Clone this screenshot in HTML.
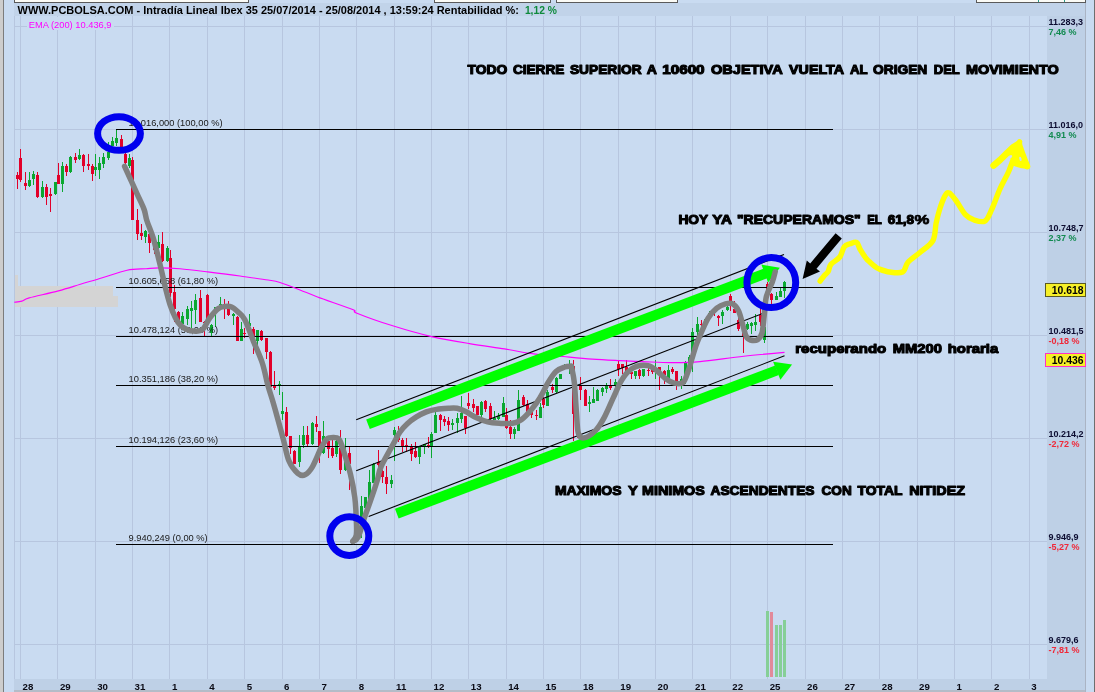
<!DOCTYPE html>
<html lang="es"><head><meta charset="utf-8"><title>PCBOLSA - Intradía Lineal Ibex 35</title>
<style>
html,body{margin:0;padding:0;background:#c9dbf1;overflow:hidden}
svg{display:block;position:absolute;left:0;top:0}
text{font-family:"Liberation Sans",sans-serif}
.s{font-size:9.3px;fill:#181818}
.ax{font-size:9px;font-weight:bold}
.d{font-size:9.7px;font-weight:bold;fill:#0a0a14}
.big{font-weight:bold;fill:#000;stroke:#000;stroke-width:1.15px;stroke-linejoin:round}
</style></head><body>
<svg width="1095" height="692" viewBox="0 0 1095 692">
<rect x="0" y="0" width="1095" height="692" fill="#c9dbf1"/>
<g shape-rendering="crispEdges">
<rect x="1047" y="3" width="38" height="689" fill="#bed0e6"/>
<rect x="14" y="679" width="1071" height="13" fill="#bed0e6"/>
<rect x="14" y="690" width="1072" height="2" fill="#b4bcc8"/>
<rect x="0" y="0" width="3" height="692" fill="#cdcdcd"/>
<rect x="3" y="0" width="1" height="692" fill="#7c7c7c"/>
<rect x="1085" y="3" width="1" height="689" fill="#aab4c4"/>
<rect x="1094" y="0" width="1" height="692" fill="#6e6e6e"/>
<rect x="14" y="0" width="234" height="2" fill="#fbfbf6"/>
<rect x="14" y="2" width="235" height="1" fill="#5a5a5a"/>
<rect x="14" y="0" width="1" height="3" fill="#5a5a5a"/>
<rect x="248" y="0" width="1" height="3" fill="#5a5a5a"/>
<rect x="434" y="0" width="116" height="2" fill="#fbfbf6"/>
<rect x="434" y="2" width="117" height="1" fill="#5a5a5a"/>
<rect x="434" y="0" width="1" height="3" fill="#5a5a5a"/>
<rect x="550" y="0" width="1" height="3" fill="#5a5a5a"/>
<rect x="556" y="0" width="121" height="2" fill="#fbfbf6"/>
<rect x="556" y="2" width="122" height="1" fill="#5a5a5a"/>
<rect x="556" y="0" width="1" height="3" fill="#5a5a5a"/>
<rect x="677" y="0" width="1" height="3" fill="#5a5a5a"/>
<rect x="976" y="0" width="109" height="2" fill="#fbfbf6"/>
<rect x="976" y="2" width="110" height="1" fill="#5a5a5a"/>
<rect x="976" y="0" width="1" height="3" fill="#5a5a5a"/>
<rect x="1085" y="0" width="1" height="3" fill="#5a5a5a"/>
<rect x="1038" y="0" width="1" height="2" fill="#2a9a8a"/>
<rect x="1064" y="0" width="1" height="2" fill="#2a9a8a"/>
<rect x="14" y="3" width="1" height="676" fill="#b7c6df"/>
<rect x="20" y="3" width="1" height="676" fill="#b7c6df"/>
<rect x="57" y="3" width="1" height="676" fill="#b7c6df"/>
<rect x="95" y="3" width="1" height="676" fill="#b7c6df"/>
<rect x="132" y="3" width="1" height="676" fill="#b7c6df"/>
<rect x="169" y="3" width="1" height="676" fill="#b7c6df"/>
<rect x="207" y="3" width="1" height="676" fill="#b7c6df"/>
<rect x="244" y="3" width="1" height="676" fill="#b7c6df"/>
<rect x="282" y="3" width="1" height="676" fill="#b7c6df"/>
<rect x="319" y="3" width="1" height="676" fill="#b7c6df"/>
<rect x="356" y="3" width="1" height="676" fill="#b7c6df"/>
<rect x="394" y="3" width="1" height="676" fill="#b7c6df"/>
<rect x="431" y="3" width="1" height="676" fill="#b7c6df"/>
<rect x="468" y="3" width="1" height="676" fill="#b7c6df"/>
<rect x="506" y="3" width="1" height="676" fill="#b7c6df"/>
<rect x="543" y="3" width="1" height="676" fill="#b7c6df"/>
<rect x="580" y="3" width="1" height="676" fill="#b7c6df"/>
<rect x="618" y="3" width="1" height="676" fill="#b7c6df"/>
<rect x="655" y="3" width="1" height="676" fill="#b7c6df"/>
<rect x="692" y="3" width="1" height="676" fill="#b7c6df"/>
<rect x="730" y="3" width="1" height="676" fill="#b7c6df"/>
<rect x="767" y="3" width="1" height="676" fill="#b7c6df"/>
<rect x="805" y="3" width="1" height="676" fill="#b7c6df"/>
<rect x="842" y="3" width="1" height="676" fill="#b7c6df"/>
<rect x="879" y="3" width="1" height="676" fill="#b7c6df"/>
<rect x="917" y="3" width="1" height="676" fill="#b7c6df"/>
<rect x="954" y="3" width="1" height="676" fill="#b7c6df"/>
<rect x="991" y="3" width="1" height="676" fill="#b7c6df"/>
<rect x="1029" y="3" width="1" height="676" fill="#b7c6df"/>
<rect x="14" y="26" width="1033" height="1" fill="#b7c6df"/>
<rect x="14" y="129" width="1033" height="1" fill="#b7c6df"/>
<rect x="14" y="232" width="1033" height="1" fill="#b7c6df"/>
<rect x="14" y="335" width="1033" height="1" fill="#b7c6df"/>
<rect x="14" y="438" width="1033" height="1" fill="#b7c6df"/>
<rect x="14" y="541" width="1033" height="1" fill="#b7c6df"/>
<rect x="14" y="644" width="1033" height="1" fill="#b7c6df"/>
<rect x="14" y="3" width="1071" height="13" fill="#c1d3e9"/>
<rect x="27" y="17" width="87" height="13" fill="#c9dbf1"/>
<path d="M14.5 275H18.3V286H112.5V296H117.6V307.3H14.5Z" fill="#d4d4d4"/>
<rect x="766" y="611" width="3" height="66" fill="#86cf97"/>
<rect x="770" y="612" width="3" height="65" fill="#e28a9a"/>
<rect x="775" y="625" width="3" height="52" fill="#86cf97"/>
<rect x="779" y="625" width="3" height="52" fill="#86cf97"/>
<rect x="783" y="620" width="3" height="57" fill="#86cf97"/>
<rect x="17" y="172" width="1" height="17" fill="#e2002a"/>
<rect x="16" y="175" width="3" height="4" fill="#e2002a"/>
<rect x="20" y="149" width="1" height="33" fill="#e2002a"/>
<rect x="19" y="158" width="3" height="22" fill="#e2002a"/>
<rect x="25" y="172" width="1" height="18" fill="#e2002a"/>
<rect x="24" y="183" width="3" height="3" fill="#e2002a"/>
<rect x="29" y="172" width="1" height="15" fill="#0aa830"/>
<rect x="28" y="180" width="3" height="6" fill="#0aa830"/>
<rect x="33" y="171" width="1" height="14" fill="#0aa830"/>
<rect x="32" y="174" width="3" height="5" fill="#0aa830"/>
<rect x="37" y="172" width="1" height="26" fill="#e2002a"/>
<rect x="36" y="175" width="3" height="22" fill="#e2002a"/>
<rect x="42" y="181" width="1" height="17" fill="#0aa830"/>
<rect x="41" y="187" width="3" height="10" fill="#0aa830"/>
<rect x="46" y="184" width="1" height="21" fill="#e2002a"/>
<rect x="45" y="187" width="3" height="10" fill="#e2002a"/>
<rect x="50" y="188" width="1" height="24" fill="#e2002a"/>
<rect x="49" y="194" width="3" height="2" fill="#e2002a"/>
<rect x="55" y="182" width="1" height="13" fill="#0aa830"/>
<rect x="54" y="182" width="3" height="12" fill="#0aa830"/>
<rect x="58" y="163" width="1" height="21" fill="#e2002a"/>
<rect x="57" y="175" width="3" height="9" fill="#e2002a"/>
<rect x="62" y="162" width="1" height="30" fill="#0aa830"/>
<rect x="61" y="166" width="3" height="18" fill="#0aa830"/>
<rect x="66" y="164" width="1" height="12" fill="#e2002a"/>
<rect x="65" y="166" width="3" height="6" fill="#e2002a"/>
<rect x="70" y="156" width="1" height="17" fill="#0aa830"/>
<rect x="69" y="157" width="3" height="15" fill="#0aa830"/>
<rect x="75" y="153" width="1" height="10" fill="#e2002a"/>
<rect x="74" y="157" width="3" height="3" fill="#e2002a"/>
<rect x="79" y="149" width="1" height="11" fill="#0aa830"/>
<rect x="78" y="155" width="3" height="4" fill="#0aa830"/>
<rect x="83" y="154" width="1" height="18" fill="#e2002a"/>
<rect x="82" y="155" width="3" height="11" fill="#e2002a"/>
<rect x="88" y="154" width="1" height="16" fill="#e2002a"/>
<rect x="87" y="164" width="3" height="2" fill="#e2002a"/>
<rect x="92" y="164" width="1" height="17" fill="#e2002a"/>
<rect x="91" y="166" width="3" height="8" fill="#e2002a"/>
<rect x="95" y="154" width="1" height="22" fill="#0aa830"/>
<rect x="94" y="167" width="3" height="3" fill="#0aa830"/>
<rect x="99" y="157" width="1" height="22" fill="#0aa830"/>
<rect x="98" y="163" width="3" height="7" fill="#0aa830"/>
<rect x="103" y="153" width="1" height="15" fill="#0aa830"/>
<rect x="102" y="157" width="3" height="7" fill="#0aa830"/>
<rect x="108" y="142" width="1" height="18" fill="#0aa830"/>
<rect x="107" y="152" width="3" height="6" fill="#0aa830"/>
<rect x="112" y="137" width="1" height="9" fill="#0aa830"/>
<rect x="111" y="141" width="3" height="5" fill="#0aa830"/>
<rect x="116" y="130" width="1" height="16" fill="#0aa830"/>
<rect x="115" y="138" width="3" height="5" fill="#0aa830"/>
<rect x="121" y="135" width="1" height="17" fill="#e2002a"/>
<rect x="120" y="139" width="3" height="13" fill="#e2002a"/>
<rect x="125" y="150" width="1" height="15" fill="#e2002a"/>
<rect x="124" y="154" width="3" height="9" fill="#e2002a"/>
<rect x="129" y="154" width="1" height="14" fill="#0aa830"/>
<rect x="128" y="158" width="3" height="8" fill="#0aa830"/>
<rect x="132" y="157" width="1" height="63" fill="#e2002a"/>
<rect x="131" y="160" width="3" height="60" fill="#e2002a"/>
<rect x="137" y="209" width="1" height="31" fill="#e2002a"/>
<rect x="136" y="220" width="3" height="14" fill="#e2002a"/>
<rect x="141" y="224" width="1" height="16" fill="#e2002a"/>
<rect x="140" y="233" width="3" height="3" fill="#e2002a"/>
<rect x="145" y="230" width="1" height="13" fill="#0aa830"/>
<rect x="144" y="231" width="3" height="6" fill="#0aa830"/>
<rect x="149" y="232" width="1" height="21" fill="#e2002a"/>
<rect x="148" y="234" width="3" height="9" fill="#e2002a"/>
<rect x="154" y="243" width="1" height="11" fill="#e2002a"/>
<rect x="153" y="244" width="3" height="6" fill="#e2002a"/>
<rect x="158" y="235" width="1" height="14" fill="#0aa830"/>
<rect x="157" y="242" width="3" height="6" fill="#0aa830"/>
<rect x="162" y="232" width="1" height="30" fill="#e2002a"/>
<rect x="161" y="244" width="3" height="17" fill="#e2002a"/>
<rect x="167" y="246" width="1" height="16" fill="#0aa830"/>
<rect x="166" y="248" width="3" height="13" fill="#0aa830"/>
<rect x="170" y="250" width="1" height="47" fill="#e2002a"/>
<rect x="169" y="258" width="3" height="35" fill="#e2002a"/>
<rect x="174" y="285" width="1" height="37" fill="#e2002a"/>
<rect x="173" y="292" width="3" height="17" fill="#e2002a"/>
<rect x="178" y="311" width="1" height="13" fill="#e2002a"/>
<rect x="177" y="312" width="3" height="10" fill="#e2002a"/>
<rect x="182" y="312" width="1" height="13" fill="#0aa830"/>
<rect x="181" y="316" width="3" height="8" fill="#0aa830"/>
<rect x="187" y="306" width="1" height="19" fill="#0aa830"/>
<rect x="186" y="309" width="3" height="10" fill="#0aa830"/>
<rect x="191" y="301" width="1" height="27" fill="#0aa830"/>
<rect x="190" y="308" width="3" height="3" fill="#0aa830"/>
<rect x="195" y="294" width="1" height="30" fill="#0aa830"/>
<rect x="194" y="300" width="3" height="10" fill="#0aa830"/>
<rect x="200" y="290" width="1" height="32" fill="#e2002a"/>
<rect x="199" y="298" width="3" height="24" fill="#e2002a"/>
<rect x="204" y="321" width="1" height="15" fill="#e2002a"/>
<rect x="203" y="322" width="3" height="1" fill="#e2002a"/>
<rect x="207" y="294" width="1" height="28" fill="#e2002a"/>
<rect x="206" y="295" width="3" height="25" fill="#e2002a"/>
<rect x="211" y="324" width="1" height="12" fill="#0aa830"/>
<rect x="210" y="325" width="3" height="8" fill="#0aa830"/>
<rect x="215" y="307" width="1" height="20" fill="#0aa830"/>
<rect x="214" y="307" width="3" height="2" fill="#0aa830"/>
<rect x="220" y="297" width="1" height="11" fill="#0aa830"/>
<rect x="219" y="304" width="3" height="2" fill="#0aa830"/>
<rect x="224" y="299" width="1" height="20" fill="#e2002a"/>
<rect x="223" y="306" width="3" height="3" fill="#e2002a"/>
<rect x="228" y="301" width="1" height="15" fill="#e2002a"/>
<rect x="227" y="309" width="3" height="6" fill="#e2002a"/>
<rect x="233" y="313" width="1" height="12" fill="#0aa830"/>
<rect x="232" y="314" width="3" height="2" fill="#0aa830"/>
<rect x="237" y="316" width="1" height="25" fill="#e2002a"/>
<rect x="236" y="317" width="3" height="24" fill="#e2002a"/>
<rect x="241" y="322" width="1" height="19" fill="#0aa830"/>
<rect x="240" y="329" width="3" height="12" fill="#0aa830"/>
<rect x="244" y="328" width="1" height="10" fill="#e2002a"/>
<rect x="243" y="333" width="3" height="1" fill="#e2002a"/>
<rect x="249" y="314" width="1" height="13" fill="#0aa830"/>
<rect x="248" y="323" width="3" height="3" fill="#0aa830"/>
<rect x="253" y="327" width="1" height="27" fill="#e2002a"/>
<rect x="252" y="329" width="3" height="7" fill="#e2002a"/>
<rect x="257" y="330" width="1" height="17" fill="#0aa830"/>
<rect x="256" y="330" width="3" height="11" fill="#0aa830"/>
<rect x="261" y="330" width="1" height="11" fill="#e2002a"/>
<rect x="260" y="331" width="3" height="9" fill="#e2002a"/>
<rect x="266" y="338" width="1" height="21" fill="#e2002a"/>
<rect x="265" y="338" width="3" height="14" fill="#e2002a"/>
<rect x="270" y="351" width="1" height="38" fill="#e2002a"/>
<rect x="269" y="352" width="3" height="35" fill="#e2002a"/>
<rect x="274" y="371" width="1" height="19" fill="#e2002a"/>
<rect x="273" y="385" width="3" height="3" fill="#e2002a"/>
<rect x="279" y="381" width="1" height="14" fill="#0aa830"/>
<rect x="278" y="384" width="3" height="2" fill="#0aa830"/>
<rect x="282" y="392" width="1" height="28" fill="#0aa830"/>
<rect x="281" y="411" width="3" height="3" fill="#0aa830"/>
<rect x="286" y="407" width="1" height="30" fill="#e2002a"/>
<rect x="285" y="412" width="3" height="24" fill="#e2002a"/>
<rect x="290" y="436" width="1" height="18" fill="#e2002a"/>
<rect x="289" y="436" width="3" height="12" fill="#e2002a"/>
<rect x="294" y="450" width="1" height="14" fill="#e2002a"/>
<rect x="293" y="451" width="3" height="13" fill="#e2002a"/>
<rect x="299" y="435" width="1" height="32" fill="#0aa830"/>
<rect x="298" y="446" width="3" height="16" fill="#0aa830"/>
<rect x="303" y="426" width="1" height="22" fill="#0aa830"/>
<rect x="302" y="435" width="3" height="10" fill="#0aa830"/>
<rect x="307" y="426" width="1" height="20" fill="#e2002a"/>
<rect x="306" y="435" width="3" height="9" fill="#e2002a"/>
<rect x="312" y="422" width="1" height="23" fill="#0aa830"/>
<rect x="311" y="423" width="3" height="21" fill="#0aa830"/>
<rect x="316" y="416" width="1" height="16" fill="#e2002a"/>
<rect x="315" y="424" width="3" height="3" fill="#e2002a"/>
<rect x="319" y="431" width="1" height="32" fill="#e2002a"/>
<rect x="318" y="431" width="3" height="15" fill="#e2002a"/>
<rect x="323" y="421" width="1" height="33" fill="#0aa830"/>
<rect x="322" y="436" width="3" height="17" fill="#0aa830"/>
<rect x="328" y="440" width="1" height="18" fill="#e2002a"/>
<rect x="327" y="441" width="3" height="8" fill="#e2002a"/>
<rect x="332" y="440" width="1" height="18" fill="#e2002a"/>
<rect x="331" y="448" width="3" height="8" fill="#e2002a"/>
<rect x="336" y="440" width="1" height="17" fill="#0aa830"/>
<rect x="335" y="441" width="3" height="13" fill="#0aa830"/>
<rect x="340" y="430" width="1" height="44" fill="#e2002a"/>
<rect x="339" y="448" width="3" height="22" fill="#e2002a"/>
<rect x="345" y="438" width="1" height="33" fill="#0aa830"/>
<rect x="344" y="460" width="3" height="10" fill="#0aa830"/>
<rect x="349" y="446" width="1" height="44" fill="#e2002a"/>
<rect x="348" y="453" width="3" height="11" fill="#e2002a"/>
<rect x="361" y="496" width="1" height="42" fill="#0aa830"/>
<rect x="360" y="506" width="3" height="14" fill="#0aa830"/>
<rect x="365" y="497" width="1" height="11" fill="#0aa830"/>
<rect x="364" y="497" width="3" height="11" fill="#0aa830"/>
<rect x="369" y="470" width="1" height="30" fill="#0aa830"/>
<rect x="368" y="482" width="3" height="17" fill="#0aa830"/>
<rect x="373" y="463" width="1" height="20" fill="#0aa830"/>
<rect x="372" y="464" width="3" height="19" fill="#0aa830"/>
<rect x="378" y="450" width="1" height="17" fill="#e2002a"/>
<rect x="377" y="462" width="3" height="3" fill="#e2002a"/>
<rect x="382" y="470" width="1" height="13" fill="#e2002a"/>
<rect x="381" y="471" width="3" height="6" fill="#e2002a"/>
<rect x="386" y="466" width="1" height="28" fill="#e2002a"/>
<rect x="385" y="477" width="3" height="7" fill="#e2002a"/>
<rect x="391" y="475" width="1" height="13" fill="#0aa830"/>
<rect x="390" y="480" width="3" height="4" fill="#0aa830"/>
<rect x="394" y="427" width="1" height="34" fill="#0aa830"/>
<rect x="393" y="430" width="3" height="5" fill="#0aa830"/>
<rect x="398" y="426" width="1" height="16" fill="#e2002a"/>
<rect x="397" y="431" width="3" height="9" fill="#e2002a"/>
<rect x="402" y="438" width="1" height="14" fill="#e2002a"/>
<rect x="401" y="440" width="3" height="6" fill="#e2002a"/>
<rect x="406" y="438" width="1" height="14" fill="#e2002a"/>
<rect x="405" y="445" width="3" height="1" fill="#e2002a"/>
<rect x="411" y="444" width="1" height="17" fill="#e2002a"/>
<rect x="410" y="447" width="3" height="7" fill="#e2002a"/>
<rect x="415" y="442" width="1" height="16" fill="#e2002a"/>
<rect x="414" y="451" width="3" height="6" fill="#e2002a"/>
<rect x="419" y="446" width="1" height="18" fill="#0aa830"/>
<rect x="418" y="446" width="3" height="11" fill="#0aa830"/>
<rect x="424" y="444" width="1" height="10" fill="#0aa830"/>
<rect x="423" y="444" width="3" height="3" fill="#0aa830"/>
<rect x="428" y="437" width="1" height="11" fill="#e2002a"/>
<rect x="427" y="445" width="3" height="1" fill="#e2002a"/>
<rect x="431" y="432" width="1" height="26" fill="#0aa830"/>
<rect x="430" y="434" width="3" height="12" fill="#0aa830"/>
<rect x="435" y="409" width="1" height="24" fill="#0aa830"/>
<rect x="434" y="415" width="3" height="18" fill="#0aa830"/>
<rect x="440" y="414" width="1" height="17" fill="#e2002a"/>
<rect x="439" y="415" width="3" height="5" fill="#e2002a"/>
<rect x="444" y="416" width="1" height="10" fill="#e2002a"/>
<rect x="443" y="419" width="3" height="3" fill="#e2002a"/>
<rect x="448" y="417" width="1" height="14" fill="#e2002a"/>
<rect x="447" y="421" width="3" height="4" fill="#e2002a"/>
<rect x="452" y="419" width="1" height="11" fill="#0aa830"/>
<rect x="451" y="423" width="3" height="2" fill="#0aa830"/>
<rect x="457" y="413" width="1" height="20" fill="#0aa830"/>
<rect x="456" y="418" width="3" height="5" fill="#0aa830"/>
<rect x="461" y="396" width="1" height="27" fill="#0aa830"/>
<rect x="460" y="413" width="3" height="6" fill="#0aa830"/>
<rect x="465" y="416" width="1" height="18" fill="#e2002a"/>
<rect x="464" y="416" width="3" height="12" fill="#e2002a"/>
<rect x="468" y="393" width="1" height="16" fill="#e2002a"/>
<rect x="467" y="403" width="3" height="3" fill="#e2002a"/>
<rect x="473" y="399" width="1" height="13" fill="#e2002a"/>
<rect x="472" y="404" width="3" height="4" fill="#e2002a"/>
<rect x="477" y="406" width="1" height="9" fill="#e2002a"/>
<rect x="476" y="406" width="3" height="9" fill="#e2002a"/>
<rect x="481" y="401" width="1" height="16" fill="#0aa830"/>
<rect x="480" y="402" width="3" height="13" fill="#0aa830"/>
<rect x="485" y="400" width="1" height="12" fill="#e2002a"/>
<rect x="484" y="401" width="3" height="8" fill="#e2002a"/>
<rect x="490" y="403" width="1" height="17" fill="#e2002a"/>
<rect x="489" y="406" width="3" height="13" fill="#e2002a"/>
<rect x="494" y="411" width="1" height="9" fill="#0aa830"/>
<rect x="493" y="418" width="3" height="2" fill="#0aa830"/>
<rect x="498" y="413" width="1" height="7" fill="#0aa830"/>
<rect x="497" y="416" width="3" height="3" fill="#0aa830"/>
<rect x="503" y="397" width="1" height="20" fill="#0aa830"/>
<rect x="502" y="403" width="3" height="14" fill="#0aa830"/>
<rect x="506" y="408" width="1" height="21" fill="#e2002a"/>
<rect x="505" y="415" width="3" height="13" fill="#e2002a"/>
<rect x="510" y="420" width="1" height="19" fill="#e2002a"/>
<rect x="509" y="427" width="3" height="7" fill="#e2002a"/>
<rect x="514" y="427" width="1" height="12" fill="#0aa830"/>
<rect x="513" y="429" width="3" height="5" fill="#0aa830"/>
<rect x="518" y="390" width="1" height="41" fill="#0aa830"/>
<rect x="517" y="400" width="3" height="31" fill="#0aa830"/>
<rect x="523" y="395" width="1" height="11" fill="#e2002a"/>
<rect x="522" y="397" width="3" height="8" fill="#e2002a"/>
<rect x="527" y="400" width="1" height="12" fill="#e2002a"/>
<rect x="526" y="404" width="3" height="8" fill="#e2002a"/>
<rect x="531" y="409" width="1" height="9" fill="#e2002a"/>
<rect x="530" y="412" width="3" height="3" fill="#e2002a"/>
<rect x="536" y="410" width="1" height="10" fill="#e2002a"/>
<rect x="535" y="415" width="3" height="1" fill="#e2002a"/>
<rect x="540" y="403" width="1" height="15" fill="#0aa830"/>
<rect x="539" y="407" width="3" height="11" fill="#0aa830"/>
<rect x="543" y="397" width="1" height="11" fill="#e2002a"/>
<rect x="542" y="399" width="3" height="6" fill="#e2002a"/>
<rect x="547" y="390" width="1" height="16" fill="#0aa830"/>
<rect x="546" y="392" width="3" height="14" fill="#0aa830"/>
<rect x="552" y="384" width="1" height="9" fill="#e2002a"/>
<rect x="551" y="387" width="3" height="3" fill="#e2002a"/>
<rect x="556" y="377" width="1" height="16" fill="#0aa830"/>
<rect x="555" y="378" width="3" height="14" fill="#0aa830"/>
<rect x="560" y="374" width="1" height="5" fill="#0aa830"/>
<rect x="559" y="374" width="3" height="5" fill="#0aa830"/>
<rect x="564" y="364" width="1" height="6" fill="#0aa830"/>
<rect x="563" y="365" width="3" height="4" fill="#0aa830"/>
<rect x="569" y="360" width="1" height="14" fill="#0aa830"/>
<rect x="568" y="364" width="3" height="4" fill="#0aa830"/>
<rect x="573" y="360" width="1" height="81" fill="#e2002a"/>
<rect x="572" y="366" width="3" height="48" fill="#e2002a"/>
<rect x="577" y="412" width="1" height="26" fill="#e2002a"/>
<rect x="576" y="414" width="3" height="16" fill="#e2002a"/>
<rect x="580" y="377" width="1" height="23" fill="#e2002a"/>
<rect x="579" y="386" width="3" height="4" fill="#e2002a"/>
<rect x="585" y="389" width="1" height="17" fill="#e2002a"/>
<rect x="584" y="390" width="3" height="16" fill="#e2002a"/>
<rect x="589" y="396" width="1" height="16" fill="#0aa830"/>
<rect x="588" y="402" width="3" height="2" fill="#0aa830"/>
<rect x="593" y="387" width="1" height="16" fill="#0aa830"/>
<rect x="592" y="399" width="3" height="4" fill="#0aa830"/>
<rect x="597" y="389" width="1" height="12" fill="#0aa830"/>
<rect x="596" y="390" width="3" height="11" fill="#0aa830"/>
<rect x="602" y="387" width="1" height="9" fill="#0aa830"/>
<rect x="601" y="388" width="3" height="4" fill="#0aa830"/>
<rect x="606" y="383" width="1" height="10" fill="#0aa830"/>
<rect x="605" y="386" width="3" height="3" fill="#0aa830"/>
<rect x="610" y="379" width="1" height="11" fill="#e2002a"/>
<rect x="609" y="386" width="3" height="2" fill="#e2002a"/>
<rect x="615" y="379" width="1" height="9" fill="#0aa830"/>
<rect x="614" y="382" width="3" height="4" fill="#0aa830"/>
<rect x="618" y="360" width="1" height="16" fill="#e2002a"/>
<rect x="617" y="364" width="3" height="5" fill="#e2002a"/>
<rect x="622" y="364" width="1" height="10" fill="#e2002a"/>
<rect x="621" y="364" width="3" height="4" fill="#e2002a"/>
<rect x="626" y="360" width="1" height="11" fill="#e2002a"/>
<rect x="625" y="367" width="3" height="4" fill="#e2002a"/>
<rect x="631" y="367" width="1" height="12" fill="#e2002a"/>
<rect x="630" y="372" width="3" height="2" fill="#e2002a"/>
<rect x="635" y="371" width="1" height="8" fill="#0aa830"/>
<rect x="634" y="371" width="3" height="5" fill="#0aa830"/>
<rect x="639" y="369" width="1" height="10" fill="#e2002a"/>
<rect x="638" y="370" width="3" height="6" fill="#e2002a"/>
<rect x="643" y="369" width="1" height="8" fill="#0aa830"/>
<rect x="642" y="369" width="3" height="7" fill="#0aa830"/>
<rect x="648" y="368" width="1" height="8" fill="#e2002a"/>
<rect x="647" y="370" width="3" height="1" fill="#e2002a"/>
<rect x="652" y="367" width="1" height="7" fill="#e2002a"/>
<rect x="651" y="370" width="3" height="2" fill="#e2002a"/>
<rect x="655" y="360" width="1" height="19" fill="#0aa830"/>
<rect x="654" y="368" width="3" height="4" fill="#0aa830"/>
<rect x="659" y="367" width="1" height="23" fill="#e2002a"/>
<rect x="658" y="367" width="3" height="4" fill="#e2002a"/>
<rect x="664" y="370" width="1" height="14" fill="#e2002a"/>
<rect x="663" y="371" width="3" height="4" fill="#e2002a"/>
<rect x="668" y="365" width="1" height="14" fill="#0aa830"/>
<rect x="667" y="370" width="3" height="9" fill="#0aa830"/>
<rect x="672" y="367" width="1" height="7" fill="#e2002a"/>
<rect x="671" y="369" width="3" height="3" fill="#e2002a"/>
<rect x="676" y="371" width="1" height="19" fill="#e2002a"/>
<rect x="675" y="371" width="3" height="10" fill="#e2002a"/>
<rect x="681" y="376" width="1" height="13" fill="#0aa830"/>
<rect x="680" y="379" width="3" height="6" fill="#0aa830"/>
<rect x="685" y="361" width="1" height="23" fill="#0aa830"/>
<rect x="684" y="362" width="3" height="18" fill="#0aa830"/>
<rect x="689" y="355" width="1" height="13" fill="#0aa830"/>
<rect x="688" y="357" width="3" height="8" fill="#0aa830"/>
<rect x="692" y="328" width="1" height="44" fill="#0aa830"/>
<rect x="691" y="332" width="3" height="25" fill="#0aa830"/>
<rect x="697" y="317" width="1" height="19" fill="#0aa830"/>
<rect x="696" y="324" width="3" height="8" fill="#0aa830"/>
<rect x="701" y="320" width="1" height="9" fill="#e2002a"/>
<rect x="700" y="324" width="3" height="1" fill="#e2002a"/>
<rect x="705" y="318" width="1" height="6" fill="#0aa830"/>
<rect x="704" y="319" width="3" height="5" fill="#0aa830"/>
<rect x="709" y="311" width="1" height="7" fill="#0aa830"/>
<rect x="708" y="313" width="3" height="5" fill="#0aa830"/>
<rect x="714" y="308" width="1" height="8" fill="#e2002a"/>
<rect x="713" y="309" width="3" height="4" fill="#e2002a"/>
<rect x="718" y="315" width="1" height="11" fill="#e2002a"/>
<rect x="717" y="316" width="3" height="2" fill="#e2002a"/>
<rect x="722" y="310" width="1" height="14" fill="#0aa830"/>
<rect x="721" y="312" width="3" height="4" fill="#0aa830"/>
<rect x="727" y="305" width="1" height="6" fill="#0aa830"/>
<rect x="726" y="307" width="3" height="3" fill="#0aa830"/>
<rect x="730" y="294" width="1" height="17" fill="#e2002a"/>
<rect x="729" y="296" width="3" height="5" fill="#e2002a"/>
<rect x="734" y="301" width="1" height="12" fill="#e2002a"/>
<rect x="733" y="309" width="3" height="4" fill="#e2002a"/>
<rect x="738" y="315" width="1" height="16" fill="#e2002a"/>
<rect x="737" y="320" width="3" height="9" fill="#e2002a"/>
<rect x="743" y="325" width="1" height="28" fill="#e2002a"/>
<rect x="742" y="328" width="3" height="8" fill="#e2002a"/>
<rect x="747" y="322" width="1" height="8" fill="#0aa830"/>
<rect x="746" y="324" width="3" height="5" fill="#0aa830"/>
<rect x="751" y="322" width="1" height="12" fill="#0aa830"/>
<rect x="750" y="323" width="3" height="3" fill="#0aa830"/>
<rect x="755" y="314" width="1" height="17" fill="#0aa830"/>
<rect x="754" y="322" width="3" height="3" fill="#0aa830"/>
<rect x="760" y="308" width="1" height="18" fill="#e2002a"/>
<rect x="759" y="315" width="3" height="7" fill="#e2002a"/>
<rect x="764" y="326" width="1" height="17" fill="#0aa830"/>
<rect x="763" y="327" width="3" height="13" fill="#0aa830"/>
<rect x="767" y="282" width="1" height="14" fill="#e2002a"/>
<rect x="766" y="284" width="3" height="8" fill="#e2002a"/>
<rect x="771" y="293" width="1" height="11" fill="#e2002a"/>
<rect x="770" y="294" width="3" height="6" fill="#e2002a"/>
<rect x="776" y="292" width="1" height="8" fill="#0aa830"/>
<rect x="775" y="296" width="3" height="4" fill="#0aa830"/>
<rect x="780" y="288" width="1" height="9" fill="#0aa830"/>
<rect x="779" y="291" width="3" height="6" fill="#0aa830"/>
<rect x="784" y="281" width="1" height="17" fill="#0aa830"/>
<rect x="783" y="282" width="3" height="9" fill="#0aa830"/>
<rect x="116" y="129" width="717" height="1" fill="#000"/>
<rect x="116" y="287" width="717" height="1" fill="#000"/>
<rect x="116" y="336" width="717" height="1" fill="#000"/>
<rect x="116" y="385" width="717" height="1" fill="#000"/>
<rect x="116" y="446" width="717" height="1" fill="#000"/>
<rect x="116" y="544" width="717" height="1" fill="#000"/>
</g>
<text class="s" x="128.6" y="125.8">11.016,000 (100,00 %)</text>
<text class="s" x="128.6" y="283.8">10.605,658 (61,80 %)</text>
<text class="s" x="128.6" y="332.8">10.478,124 (50,00 %)</text>
<text class="s" x="128.6" y="381.8">10.351,186 (38,20 %)</text>
<text class="s" x="128.6" y="442.8">10.194,126 (23,60 %)</text>
<text class="s" x="128.6" y="540.8">9.940,249 (0,00 %)</text>
<path d="M14.2 302.3C15.5 302.1 19.4 301.8 21.9 301.1C24.4 300.4 23.1 299.6 29.2 297.9C35.3 296.2 49.9 293.2 58.4 290.9C66.9 288.6 73.1 286.5 80.4 284.3C87.7 282.1 94.5 280.2 102.3 277.8C110.1 275.4 119.8 271.7 127.1 270.2C134.4 268.7 140.7 269.1 146.1 268.7C151.5 268.3 153.8 267.9 159.5 267.9C165.2 267.9 172.0 268.1 180.0 268.8C188.0 269.5 197.7 270.7 207.7 271.9C217.7 273.1 229.9 274.6 240.0 276.0C250.1 277.4 261.4 278.9 268.1 280.0C274.8 281.1 274.7 280.9 280.0 282.5C285.3 284.1 293.8 287.5 300.0 289.9C306.2 292.3 308.7 293.6 317.5 296.9C326.3 300.2 346.0 306.8 352.6 309.5C359.2 312.2 350.2 310.4 357.0 313.2C363.8 316.0 381.1 322.2 393.5 326.1C405.9 330.0 418.8 333.7 431.5 336.6C444.2 339.5 457.3 341.6 469.5 343.6C481.7 345.7 493.9 347.2 504.6 348.9C515.3 350.6 524.1 352.6 533.8 353.9C543.5 355.2 553.3 355.6 563.0 356.5C572.7 357.4 582.7 358.4 592.2 359.1C601.7 359.8 611.6 360.2 620.0 360.6C628.4 361.0 633.7 361.3 642.3 361.6C650.9 361.9 661.9 362.6 671.5 362.6C681.1 362.6 688.0 362.7 700.0 361.6C712.0 360.5 729.7 357.7 743.8 356.2C757.9 354.7 777.7 353.0 784.5 352.4" fill="none" stroke="#ff00ff" stroke-width="1.1"/>
<g stroke="#000" stroke-width="1.1" fill="none">
<path d="M356.2 419.8L784 254.4"/>
<path d="M356.2 470.8L764 313"/>
<path d="M368.7 516.5L784.5 355.8"/>
</g>
<path d="M368 424.2L766 273.2" stroke="#00ff00" stroke-width="10.3" fill="none"/>
<path d="M761.4 264.6L779.9 267.8L768.1 282.5Z" fill="#00ff00"/>
<path d="M396.8 513.6L777 370.3" stroke="#00ff00" stroke-width="10.3" fill="none"/>
<path d="M773.1 361.7L792.1 364.6L780.4 379.7Z" fill="#00ff00"/>
<g stroke="#808080" stroke-width="5.5" fill="none" stroke-linecap="round" stroke-linejoin="round">
<path d="M124.6 166.3C125.8 169.0 129.5 177.1 131.9 182.4C134.3 187.8 137.1 193.8 139.2 198.4C141.3 203.0 143.0 206.2 144.3 210.0C145.6 213.8 145.4 216.0 147.0 221.0C148.6 226.0 151.5 232.1 153.8 240.0C156.1 247.9 158.9 259.9 160.9 268.2C162.9 276.5 164.4 283.9 166.0 290.0C167.6 296.1 168.6 300.3 170.2 305.0C171.8 309.7 173.8 314.6 175.5 318.0C177.2 321.4 178.6 323.4 180.5 325.3C182.4 327.2 184.8 328.5 187.0 329.5C189.2 330.5 191.0 331.1 193.6 331.1C196.2 331.1 199.7 331.9 202.4 329.7C205.1 327.5 207.0 321.5 209.7 318.0C212.4 314.5 215.8 310.4 218.4 308.5C221.0 306.6 222.8 306.8 225.0 306.5C227.2 306.2 229.4 306.1 231.6 307.0C233.8 307.9 235.8 309.9 238.0 312.0C240.2 314.1 242.1 314.6 244.7 319.5C247.3 324.4 250.6 334.1 253.5 341.4C256.4 348.6 259.9 355.7 262.3 363.0C264.7 370.3 266.0 378.5 267.8 385.0C269.6 391.5 271.4 396.5 273.0 402.0C274.6 407.5 275.8 411.7 277.5 418.0C279.2 424.3 281.6 432.8 283.5 440.0C285.4 447.2 286.6 455.4 289.0 461.0C291.4 466.6 295.1 471.0 297.8 473.3C300.5 475.6 302.6 475.9 305.0 474.8C307.4 473.7 309.7 471.3 312.4 466.8C315.1 462.3 318.8 452.4 321.1 447.8C323.5 443.2 325.1 441.0 326.5 439.3C327.9 437.6 328.4 438.1 329.5 437.8C330.6 437.5 331.8 437.5 333.0 437.5C334.2 437.5 335.4 437.4 336.5 437.8C337.6 438.2 338.4 438.1 339.5 440.0C340.6 441.9 341.2 443.5 343.0 449.2C344.8 454.9 348.4 465.9 350.4 474.0C352.4 482.1 353.8 489.8 354.8 497.5C355.8 505.2 356.1 513.8 356.3 520.0C356.6 526.2 356.9 531.4 356.3 535.0C355.7 538.6 353.4 540.3 352.8 541.4"/>
<path d="M353.0 541.2C353.9 540.5 356.3 540.9 358.2 537.0C360.1 533.1 362.3 523.9 364.3 518.0C366.3 512.1 367.9 508.2 370.1 501.9C372.3 495.6 375.6 485.9 377.4 480.0C379.2 474.1 378.2 473.1 381.0 466.8C383.8 460.5 391.0 448.2 394.2 442.4C397.4 436.6 397.8 435.1 400.0 432.0C402.2 428.9 404.6 426.3 407.3 423.8C410.0 421.3 412.8 419.2 416.0 417.2C419.2 415.2 422.9 413.2 426.3 411.9C429.7 410.6 432.9 410.0 436.5 409.4C440.1 408.8 444.8 408.5 448.2 408.3C451.6 408.1 454.1 407.8 457.0 408.3C459.9 408.9 462.5 410.1 465.7 411.6C468.9 413.1 472.3 415.8 476.0 417.5C479.7 419.2 483.8 420.9 487.7 421.9C491.6 422.9 495.3 423.1 499.4 423.3C503.5 423.5 508.9 423.9 512.5 423.3C516.1 422.7 518.1 422.0 521.3 419.7C524.5 417.4 528.4 413.1 531.5 409.4C534.6 405.7 537.5 401.8 540.2 397.3C543.0 392.9 545.4 387.0 548.0 382.7C550.6 378.4 553.2 374.0 556.0 371.4C558.8 368.8 562.2 367.9 564.8 367.0C567.4 366.1 570.3 366.4 571.4 366.3"/>
<path d="M571.4 366.3C571.9 369.0 573.4 374.6 574.3 382.4C575.1 390.2 575.8 404.6 576.5 413.0C577.2 421.4 577.1 428.9 578.3 433.0C579.5 437.1 580.9 438.3 583.8 437.9C586.7 437.5 592.1 434.0 595.5 430.6C598.9 427.2 601.4 422.8 604.3 417.4C607.2 412.0 610.3 404.2 613.0 398.4C615.7 392.6 617.9 386.8 620.4 382.4C622.9 378.0 625.0 374.8 627.7 372.1C630.4 369.4 633.0 367.4 636.4 366.3C639.8 365.2 644.7 364.9 648.1 365.6C651.5 366.3 654.0 368.5 656.9 370.7C659.8 372.9 662.8 376.6 665.7 378.7C668.6 380.8 671.5 382.5 674.4 383.1C677.3 383.7 680.9 384.5 683.2 382.4C685.5 380.3 686.8 374.7 688.3 370.7C689.8 366.7 690.8 362.4 692.0 358.5C693.2 354.6 694.3 350.5 695.5 347.0C696.7 343.5 697.1 342.2 699.2 337.4C701.3 332.6 705.1 323.3 708.0 318.4C710.9 313.5 713.9 310.6 716.8 308.2C719.7 305.8 722.8 304.5 725.5 303.8C728.2 303.1 730.6 302.6 732.8 303.8C735.0 305.0 737.0 307.4 738.7 311.1C740.4 314.8 741.8 321.7 743.0 325.8C744.2 329.9 744.8 333.6 746.0 336.0C747.2 338.4 748.4 339.4 750.4 340.0C752.4 340.6 755.8 340.8 757.7 339.6C759.6 338.4 760.9 337.0 762.0 333.0C763.1 329.0 763.5 321.6 764.2 315.5C764.9 309.4 765.0 302.1 766.4 296.5C767.8 290.9 770.8 286.1 772.3 282.0C773.8 277.9 774.7 273.4 775.2 271.7"/>
</g>
<g stroke="#0000ee" stroke-width="7" fill="none">
<ellipse cx="119" cy="133.5" rx="21.4" ry="16.8"/>
<ellipse cx="771.3" cy="282.6" rx="24.4" ry="25"/>
<ellipse cx="349.3" cy="536.1" rx="19.5" ry="19.3"/>
</g>
<path d="M835.6 233.2L810.2 263.4L806.8 260.5L802.6 278.9L820.0 271.5L816.5 268.7L841.8 238.4Z" fill="#000"/>
<g stroke="#ffff00" stroke-width="5.4" fill="none" stroke-linecap="round" stroke-linejoin="round">
<path d="M820.1 281.1C820.8 280.2 822.7 277.6 824.0 276.0C825.3 274.4 826.9 273.6 828.1 271.6C829.3 269.7 829.0 266.7 831.0 264.3C833.0 261.9 837.6 259.9 839.8 257.0C842.0 254.1 842.5 249.0 844.2 246.8C845.9 244.6 847.9 244.5 850.0 243.8C852.1 243.1 854.9 241.4 856.6 242.4C858.3 243.4 858.7 247.0 860.3 249.7C861.9 252.4 864.5 256.3 866.1 258.4C867.7 260.5 868.5 260.9 870.0 262.3C871.5 263.7 873.4 265.4 874.9 266.5C876.4 267.6 876.3 267.9 878.7 268.8C881.1 269.7 885.5 271.5 889.5 272.0C893.5 272.5 899.4 273.6 902.5 272.0C905.6 270.4 905.1 265.6 908.0 262.3C910.9 259.1 915.8 256.1 919.9 252.5C924.0 248.9 930.2 245.5 932.9 240.6C935.6 235.7 935.0 228.4 936.1 223.3C937.2 218.2 938.0 214.7 939.4 210.2C940.8 205.7 943.2 199.0 944.8 196.1C946.4 193.2 947.2 192.0 949.2 192.9C951.2 193.8 954.0 198.0 956.7 201.6C959.4 205.2 962.5 211.5 965.4 214.6C968.3 217.7 970.9 218.9 974.1 220.0C977.4 221.1 982.0 222.7 984.9 221.1C987.8 219.5 988.9 215.6 991.4 210.2C993.9 204.8 997.2 195.1 1000.1 188.6C1003.0 182.1 1006.3 177.0 1008.8 171.2C1011.3 165.4 1013.5 158.8 1015.3 153.9C1017.1 149.0 1018.9 143.9 1019.6 141.9"/>
<path d="M993.6 165.6L1000.0 160.0L1007.5 152.6L1013.5 147.0L1018.8 143.8" stroke-width="6.6"/>
<path d="M1018.8 143.8L1022.5 154.0L1025.2 161.0L1027.3 166.4" stroke-width="6"/>
<path d="M1027.3 166.4L1022.0 165.6L1016.0 164.0" stroke-width="5.4"/>
<path d="M1008 152L1018.8 143.8L1026 164.5L1013 164Z" fill="#ffff00" stroke="none"/>
<ellipse cx="1010.8" cy="156.6" rx="1.3" ry="1.5" fill="#c9dbf1" stroke="none" transform="rotate(35 1010.8 156.6)"/>
<ellipse cx="1020.4" cy="158.8" rx="1.1" ry="2.2" fill="#c9dbf1" stroke="none" transform="rotate(-15 1020.4 158.8)"/>
</g>
<text class="big" y="73.6" font-size="13.7"><tspan x="467.6" textLength="39.7" lengthAdjust="spacingAndGlyphs">TODO</tspan> <tspan x="512.9" textLength="51.4" lengthAdjust="spacingAndGlyphs">CIERRE</tspan> <tspan x="569.9" textLength="71.8" lengthAdjust="spacingAndGlyphs">SUPERIOR</tspan> <tspan x="646.7" textLength="9.6" lengthAdjust="spacingAndGlyphs">A</tspan> <tspan x="662.2" textLength="42.4" lengthAdjust="spacingAndGlyphs">10600</tspan> <tspan x="711.0" textLength="71.1" lengthAdjust="spacingAndGlyphs">OBJETIVA</tspan> <tspan x="789.1" textLength="54.4" lengthAdjust="spacingAndGlyphs">VUELTA</tspan> <tspan x="849.9" textLength="17.5" lengthAdjust="spacingAndGlyphs">AL</tspan> <tspan x="873.0" textLength="54.3" lengthAdjust="spacingAndGlyphs">ORIGEN</tspan> <tspan x="933.8" textLength="25.7" lengthAdjust="spacingAndGlyphs">DEL</tspan> <tspan x="965.9" textLength="92.9" lengthAdjust="spacingAndGlyphs">MOVIMIENTO</tspan></text>
<text class="big" y="224.0" font-size="13.7"><tspan x="678.4" textLength="29.5" lengthAdjust="spacingAndGlyphs">HOY</tspan> <tspan x="712.3" textLength="19.0" lengthAdjust="spacingAndGlyphs">YA</tspan> <tspan x="736.9" textLength="123.8" lengthAdjust="spacingAndGlyphs">&quot;RECUPERAMOS&quot;</tspan> <tspan x="867.2" textLength="14.5" lengthAdjust="spacingAndGlyphs">EL</tspan> <tspan x="887.7" textLength="26.3" lengthAdjust="spacingAndGlyphs">61,8</tspan><tspan x="914.6" textLength="14.8" lengthAdjust="spacingAndGlyphs" style="stroke-width:0.75px">%</tspan></text>
<text class="big" y="353.1" font-size="13.7"><tspan x="795.2" textLength="91.1" lengthAdjust="spacingAndGlyphs">recuperando</tspan> <tspan x="892.8" textLength="49.1" lengthAdjust="spacingAndGlyphs">MM200</tspan> <tspan x="947.7" textLength="50.6" lengthAdjust="spacingAndGlyphs">horaria</tspan></text>
<text class="big" y="494.7" font-size="13.7"><tspan x="554.9" textLength="66.6" lengthAdjust="spacingAndGlyphs">MAXIMOS</tspan> <tspan x="628.0" textLength="9.6" lengthAdjust="spacingAndGlyphs">Y</tspan> <tspan x="642.0" textLength="62.8" lengthAdjust="spacingAndGlyphs">MINIMOS</tspan> <tspan x="710.5" textLength="104.0" lengthAdjust="spacingAndGlyphs">ASCENDENTES</tspan> <tspan x="821.6" textLength="30.1" lengthAdjust="spacingAndGlyphs">CON</tspan> <tspan x="857.5" textLength="44.7" lengthAdjust="spacingAndGlyphs">TOTAL</tspan> <tspan x="909.2" textLength="55.8" lengthAdjust="spacingAndGlyphs">NITIDEZ</tspan></text>
<text y="14.1" font-size="10.7" font-weight="bold" fill="#000"><tspan x="17.6" textLength="501.4" lengthAdjust="spacingAndGlyphs">WWW.PCBOLSA.COM - Intradía Lineal Ibex 35 25/07/2014 - 25/08/2014 , 13:59:24 Rentabilidad %:</tspan> <tspan x="524.9" textLength="32" lengthAdjust="spacingAndGlyphs" fill="#0e8a3c">1,12 %</tspan></text>
<text x="28.8" y="27.7" font-size="9.3" fill="#ff00ff">EMA (200) 10.436,9</text>
<text class="ax" x="1048.4" y="24.8" fill="#0c0c30">11.283,3</text>
<text class="ax" x="1048.4" y="34.6" fill="#128a50">7,46 %</text>
<text class="ax" x="1048.4" y="127.8" fill="#0c0c30">11.016,0</text>
<text class="ax" x="1048.4" y="137.6" fill="#128a50">4,91 %</text>
<text class="ax" x="1048.4" y="230.8" fill="#0c0c30">10.748,7</text>
<text class="ax" x="1048.4" y="240.6" fill="#128a50">2,37 %</text>
<text class="ax" x="1048.4" y="333.8" fill="#0c0c30">10.481,5</text>
<text class="ax" x="1048.4" y="343.6" fill="#f02838">-0,18 %</text>
<text class="ax" x="1048.4" y="436.8" fill="#0c0c30">10.214,2</text>
<text class="ax" x="1048.4" y="446.6" fill="#f02838">-2,72 %</text>
<text class="ax" x="1048.4" y="539.8" fill="#0c0c30">9.946,9</text>
<text class="ax" x="1048.4" y="549.6" fill="#f02838">-5,27 %</text>
<text class="ax" x="1048.4" y="642.8" fill="#0c0c30">9.679,6</text>
<text class="ax" x="1048.4" y="652.6" fill="#f02838">-7,81 %</text>
<g shape-rendering="crispEdges">
<rect x="1045.5" y="283.5" width="40" height="13" fill="#f6f028" stroke="#5a5a20" stroke-width="1"/>
<rect x="1045.5" y="353.5" width="40" height="13" fill="#f6f028" stroke="#ff30c8" stroke-width="1"/>
</g>
<text x="1083.6" y="293.9" text-anchor="end" font-size="10.4" font-weight="bold" fill="#000">10.618</text>
<text x="1083.6" y="363.9" text-anchor="end" font-size="10.4" font-weight="bold" fill="#000">10.436</text>
<text class="d" x="22.5" y="690.4">28</text>
<text class="d" x="59.9" y="690.4">29</text>
<text class="d" x="97.2" y="690.4">30</text>
<text class="d" x="134.6" y="690.4">31</text>
<text class="d" x="171.9" y="690.4">1</text>
<text class="d" x="209.3" y="690.4">4</text>
<text class="d" x="246.7" y="690.4">5</text>
<text class="d" x="284.0" y="690.4">6</text>
<text class="d" x="321.4" y="690.4">7</text>
<text class="d" x="358.7" y="690.4">8</text>
<text class="d" x="396.1" y="690.4">11</text>
<text class="d" x="433.5" y="690.4">12</text>
<text class="d" x="470.8" y="690.4">13</text>
<text class="d" x="508.2" y="690.4">14</text>
<text class="d" x="545.5" y="690.4">15</text>
<text class="d" x="582.9" y="690.4">18</text>
<text class="d" x="620.3" y="690.4">19</text>
<text class="d" x="657.6" y="690.4">20</text>
<text class="d" x="695.0" y="690.4">21</text>
<text class="d" x="732.3" y="690.4">22</text>
<text class="d" x="769.7" y="690.4">25</text>
<text class="d" x="807.1" y="690.4">26</text>
<text class="d" x="844.4" y="690.4">27</text>
<text class="d" x="881.8" y="690.4">28</text>
<text class="d" x="919.1" y="690.4">29</text>
<text class="d" x="956.5" y="690.4">1</text>
<text class="d" x="993.9" y="690.4">2</text>
<text class="d" x="1031.2" y="690.4">3</text>
</svg></body></html>
